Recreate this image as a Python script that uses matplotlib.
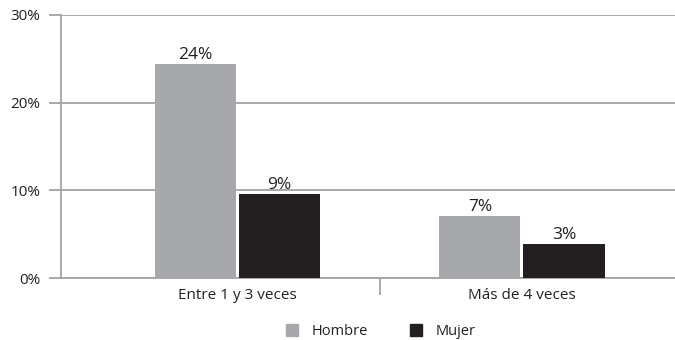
import matplotlib.pyplot as plt
import numpy as np
from matplotlib.patches import Patch

categories = ['Entre 1 y 3 veces', 'Más de 4 veces']
series = ['Hombre', 'Mujer']
hombre = [24.4, 7.1]
mujer = [9.6, 3.9]
labels_hombre = ['24%', '7%']
labels_mujer = ['9%', '3%']
yticks = [0, 10, 20, 30]
ytick_labels = ['0%', '10%', '20%', '30%']

GRAY = '#a7a8ab'
DARK = '#231f20'
LINE = '#a3a3a3'


def plot():
    plt.rcParams['font.family'] = ['Open Sans', 'DejaVu Sans']
    fig = plt.figure(figsize=(6.75, 3.4), dpi=100)
    ax = fig.add_axes([0.0904, 0.182, 0.9096, 0.774])

    x = np.arange(len(categories))
    w = 0.285
    gap = 0.0105
    b1 = ax.bar(x - w / 2 - gap / 2, hombre, w, color=GRAY, zorder=3)
    b2 = ax.bar(x + w / 2 + gap / 2, mujer, w, color=DARK, zorder=3)

    for bars, labs in ((b1, labels_hombre), (b2, labels_mujer)):
        for rect, lab in zip(bars, labs):
            ax.annotate(lab, (rect.get_x() + rect.get_width() / 2, rect.get_height()),
                        xytext=(0, 0.5), textcoords='offset points',
                        ha='center', va='bottom', fontsize=12.5, color=DARK)

    ax.set_ylim(0, 30)
    ax.set_xlim(-0.62, 1.538)
    ax.set_yticks(yticks)
    ax.set_yticklabels(ytick_labels, fontsize=11, color=DARK)
    ax.yaxis.grid(True, color=LINE, linewidth=1.3, zorder=0)
    ax.tick_params(axis='y', length=9, width=1.3, color=LINE, pad=6)

    ax.set_xticks(x)
    ax.set_xticklabels(categories, fontsize=11, color=DARK)
    ax.set_xticks([0.5], minor=True)
    ax.tick_params(axis='x', which='major', length=0, pad=7)
    ax.tick_params(axis='x', which='minor', length=12, width=1.3, color=LINE)

    for s in ('top', 'right'):
        ax.spines[s].set_visible(False)
    ax.spines['left'].set_color(LINE)
    ax.spines['left'].set_linewidth(1.3)
    ax.spines['bottom'].set_color(LINE)
    ax.spines['bottom'].set_linewidth(1.3)

    handles = [Patch(color=GRAY), Patch(color=DARK)]
    fig.legend(handles, series, loc='lower center', bbox_to_anchor=(0.564, -0.035),
               ncol=2, frameon=False, fontsize=10.5, handlelength=0.85, handleheight=0.85,
               columnspacing=2.9, handletextpad=0.9, labelcolor=DARK)

    fig.savefig('out.png', dpi=100)


if __name__ == '__main__':
    plot()
